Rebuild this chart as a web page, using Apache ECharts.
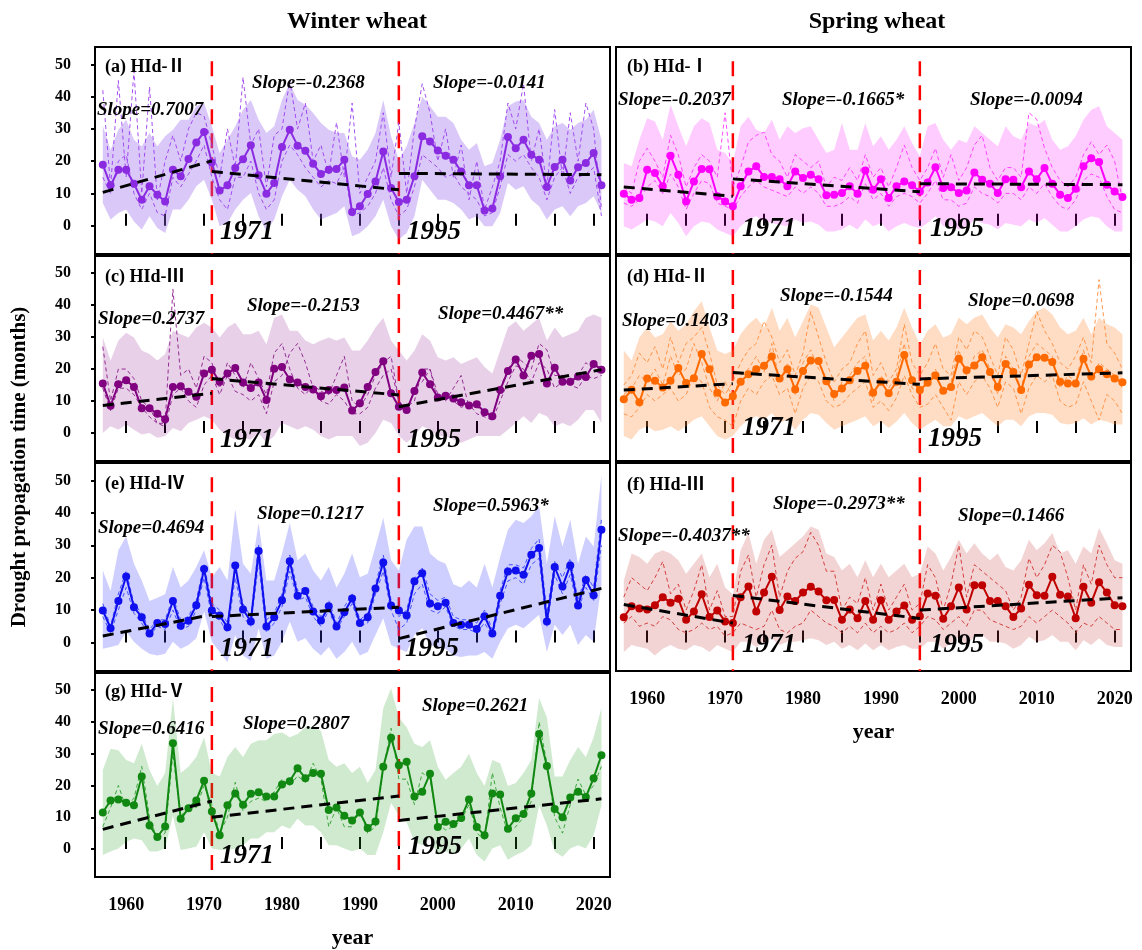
<!DOCTYPE html>
<html><head><meta charset="utf-8">
<script src="https://cdn.jsdelivr.net/npm/echarts@6/dist/echarts.min.js"></script>
<style>html,body{margin:0;padding:0;background:#fff}#c{width:1142px;height:950px}</style>
</head><body><div id="c"></div>
<script>
// ---------------- DATA ----------------
const years = [1957,1958,1959,1960,1961,1962,1963,1964,1965,1966,
  1967,1968,1969,1970,1971,1972,1973,1974,1975,1976,
  1977,1978,1979,1980,1981,1982,1983,1984,1985,1986,
  1987,1988,1989,1990,1991,1992,1993,1994,1995,1996,
  1997,1998,1999,2000,2001,2002,2003,2004,2005,2006,
  2007,2008,2009,2010,2011,2012,2013,2014,2015,2016,
  2017,2018,2019,2020,2021];
const xTickValues = [1960,1965,1970,1975,1980,1985,1990,1995,2000,2005,2010,2015,2020];
const xLabelValues = [1960,1970,1980,1990,2000,2010,2020];
const yLabelValues = [0,10,20,30,40,50];
const breakYears = [1971,1995];

// (a) Winter wheat HId-II
const mainA = [18.9,12.5,17.3,17.3,13.0,8.0,12.2,9.6,7.5,17.3, 15.3,20.7,25.8,29.0,19.6,10.9,12.5,17.9,20.6,24.9, 15.6,9.9,13.2,24.4,29.7,24.8,23.2,19.2,16.0,17.3, 17.6,20.4,4.2,6.0,9.8,13.7,23.0,11.7,7.3,8.0, 15.3,27.7,26.1,23.3,21.7,20.4,16.8,12.5,12.5,4.7, 5.3,15.3,27.5,24.0,26.6,22.0,20.4,12.0,18.2,20.4, 14.0,18.1,19.4,22.5,12.5];
const upperA = [31,23.5,29.7,32.8,26.6,24.6,28.7,24.6,27.7,29.7, 32.8,32.8,37,38,30.8,22.5,26.6,30.8,35.9,39, 32.8,28.7,30.8,39,44.2,39,37.5,34.9,31.8,29.7, 28.7,28.7,21.5,20.4,23.5,28.7,39,27.7,20.4,24.6, 31.8,40,37,33.8,33.8,31.8,26.6,23.5,25.6,18.4, 19.4,26.6,37,38.5,39,33.8,31.8,26.6,30.8,31.8, 29.7,31.8,32.8,35.9,26.6];
const lowerA = [7,1.9,3.9,5,1.3,-1.2,2.9,-0.7,-2.3,5, 5,8,12.2,14.2,8,-0.2,0.8,5,8,10.1, 2.9,-1.8,1.9,9.1,14.2,11.1,9.1,5,1.9,2.9, 3.9,6,-3.3,-2.3,-0.2,2.9,8,-0.2,-4.3,-2.3, 2.9,14.2,11.1,8,8,7,5,1.9,2.9,-0.2, -0.2,3.9,13.2,11.1,12.2,8,6,1.9,5,6, 2.9,6,7,9.1,3.9];
const dashA1 = [42,12,45,15,48,10,43,8,20,28, 20,30,35,34,25,15,30,18,46,25, 30,12,28,30,45,30,38,20,25,16, 32,15,38,10,15,20,35,15,32,10, 30,44,35,20,30,15,25,8,20,5, 12,20,38,30,44,20,30,12,36,15, 35,20,38,30,5];
const dashA2 = [15,10,20,22,10,5,10,4,3,15, 12,16,20,25,15,8,5,15,15,20, 10,5,8,20,25,22,18,15,12,14, 13,18,3,4,6,10,18,8,3,5, 12,22,20,18,15,16,12,10,8,3, 4,12,22,20,22,18,15,8,15,18, 10,15,16,18,3];
const trendA = [[[1957,10.3],[1971,20.1]],[[1971,16.8],[1995,11.1]],[[1995,16.2],[2021,15.8]]];
const slopesA = ['Slope=0.7007','Slope=-0.2368','Slope=-0.0141'];

// (b) Spring wheat HId-I
const mainB = [9.9,8.0,8.6,17.3,16.3,12.2,21.7,15.8,7.5,13.7, 17.6,17.5,9.1,7.5,6.0,12.2,16.8,18.4,15.1,15.1, 14.4,12.2,16.8,14.8,15.8,14.4,9.4,9.6,10.1,12.2, 9.9,17.1,11.1,14.4,8.6,12.2,13.7,12.5,10.6,13.4, 18.1,11.7,11.9,10.1,10.9,16.5,14.2,13.0,10.1,14.4, 14.2,11.9,16.8,14.4,17.9,13.0,9.6,8.6,11.4,18.4, 20.9,19.7,12.7,10.6,8.9];
const upperB = [19.4,18.4,26.6,33.3,32.3,26.6,37.5,30.8,24.6,30.8, 33.3,31.8,23.5,22.5,19.4,30.8,33.8,29.7,28.7,32.8, 26.6,30.8,28.7,30.2,30.8,26.6,22.5,23.5,31.8,23.5, 23.5,31.8,24.6,27.7,23.5,26.6,30.8,25.6,21.5,30.8, 31.8,26.6,23.5,26.6,25.6,30.8,28.7,26.6,24.6,30.8, 27.7,26.6,31.8,30.8,32.8,26.6,23.5,24.6,27.7,32.8, 35.9,37,30.8,28.7,26.6];
const lowerB = [-0.2,-1.2,0.3,1.9,1.3,-0.2,3.9,0.8,-3.3,-0.2, 1.3,0.8,-1.2,-2.3,-3.3,-0.2,1.9,2.9,1.3,0.8, 0.3,-0.2,1.9,0.8,1.3,0.3,-1.8,-1.8,-1.2,0.3, -1.2,1.9,-0.2,0.8,-1.8,-0.2,0.8,-0.2,-0.7,0.8, 2.9,-0.2,-0.2,-1.2,-0.7,1.9,0.8,0.3,-1.2,0.8, 0.3,-0.2,1.9,0.8,2.4,0.3,-1.8,-1.8,-0.2,1.9, 2.9,2.4,-0.2,-1.8,-1.8];
const dashB1 = [12,10,20,24,20,15,28,22,12,18, 22,20,15,35,12,18,26,28,29,22, 20,15,22,20,18,20,12,15,14,18, 14,22,15,18,12,18,25,18,14,18, 24,15,22,14,18,25,28,18,14,18, 18,15,35,33,24,18,14,12,15,22, 26,22,25,20,8];
const dashB2 = [7,6,8,12,14,10,16,12,5,10, 14,13,7,6,5,9,12,14,12,11, 10,9,12,10,12,10,6,6,7,9, 7,13,8,10,6,9,10,9,7,10, 14,8,8,6,7,12,10,9,7,10, 10,8,12,10,13,9,6,5,8,14, 16,15,9,5,4];
const trendB = [[[1957,12.0],[1971,9.1]],[[1971,14.5],[1995,10.5]],[[1995,13.0],[2021,12.7]]];
const slopesB = ['Slope=-0.2037','Slope=-0.1665*','Slope=-0.0094'];

// (c) Winter wheat HId-III
const mainC = [15.5,8.5,15.2,16.5,14.4,7.7,7.7,6.0,4.3,14.4, 14.6,12.9,11.3,18.6,19.8,16.0,18.6,20.3,15.8,14.1, 15.8,10.3,20.1,20.6,16.7,15.8,14.4,13.6,11.5,13.4, 13.4,14.2,7.0,9.3,14.4,19.1,22.4,12.4,8.2,7.2, 13.1,18.9,15.2,11.1,11.6,10.8,9.6,8.6,9.0,6.5, 5.2,13.4,19.4,23.0,18.0,24.2,24.7,15.5,20.4,16.0, 16.0,17.7,17.5,21.6,19.8];
const upperC = [29.9,22.7,28.9,31.4,29.9,25.8,24.7,22.7,24.7,32, 30.9,29.9,33,34.5,33,29.9,33,34.5,30.9,30.9, 32,27.8,36.1,37.1,32,32,28.9,27.8,28.9,29.9, 28.9,29.9,25.8,25.8,28.9,33,36.1,28.9,25.8,22.7, 25.8,30.9,28.9,23.7,22.7,23.7,21.6,22.7,23.7,20.6, 18.6,25.8,33,35,32,34,36.1,28.9,33,29.9, 30.9,32,36.1,37.1,36.1];
const lowerC = [0,2.1,1,2.6,1,-0.5,0,-1.5,-1,1.5, 0.5,3.1,4.1,5.2,4.1,1,-1,-2.1,-1.5,-2.1, 0,-3.1,-1,3.1,2.1,1,2.1,1,-1,-2.1, -1,-1,-1,-4.1,-3.1,0,4.1,3.1,-1,-3.1, -1,2.1,1,-1,-1,-2.1,-3.1,-2.1,-1,-1, -1,-1,1,3.1,5.2,3.1,6.2,5.2,2.1,3.1, 2.1,4.1,7.2,7.2,3.1];
const dashC1 = [27,10,20,20,17,10,8,3,3,45, 18,20,14,24,22,14,22,18,14,22, 17,12,25,28,20,14,12,15,13,12, 18,24,10,8,12,18,22,24,10,8, 10,20,20,12,10,14,18,8,8,7, 5,14,20,24,22,20,28,26,18,18, 16,18,22,20,18];
const dashC2 = [14,7,14,14,12,8,5,3,2,12, 14,10,8,15,18,12,18,13,12,10, 12,6,16,18,25,28,22,14,10,9, 12,10,6,6,8,14,18,20,10,6, 14,16,20,10,12,10,8,9,6,5, 4,10,16,21,20,16,22,20,14,16, 15,14,18,17,18];
const trendC = [[[1957,8.6],[1971,12.4]],[[1971,17.0],[1995,11.9]],[[1995,8.2],[2021,19.8]]];
const slopesC = ['Slope=0.2737','Slope=-0.2153','Slope=0.4467**'];

// (d) Spring wheat HId-II
const mainD = [10.5,13.5,9.6,17.0,16.3,14.2,16.3,20.3,15.6,17.1, 24.7,19.9,12.6,9.5,11.5,16.0,18.4,19.9,21.0,23.9, 17.0,19.9,13.6,19.4,22.7,22.5,16.2,12.2,13.9,16.5, 19.4,21.0,12.6,16.0,12.4,16.0,24.4,16.5,13.4,15.7, 18.0,13.2,14.4,23.2,19.6,21.1,23.7,19.1,14.4,21.6, 19.1,13.4,21.4,23.7,23.5,22.2,16.0,15.5,15.5,23.2, 17.7,19.9,18.4,17.0,15.9];
const upperD = [25.8,22.7,29.9,33,29.9,30.9,35,32,34,38.1, 41.2,33,25.8,24.7,25.8,30.9,34,36.1,33,39.2, 32,36.1,29.9,35,40.2,39.2,33,26.8,29.9,33, 36.1,37.1,28.9,32,28.9,33,39.2,33,27.8,32, 34,29.9,30.9,36.1,34,36.1,37.1,33,29.9,34, 33,30.9,35,38.1,39.2,37.1,33,30.9,32,36.1, 30.9,36.1,34,33,30.9];
const lowerD = [-1,-2.1,1,2.1,0.5,1,2.1,0.5,2.1,4.1, 5.2,2.1,-1,-2.1,-1,2.1,4.1,5.2,4.1,6.2, 3.1,4.1,1,4.1,6.2,5.7,3.1,1,2.1,3.1, 4.1,5.2,2.1,3.6,1.5,3.6,6.2,3.1,1,2.6, 4.1,2.1,2.1,5.2,4.1,5.2,6.2,4.1,2.1,4.1, 4.1,2.1,5.2,6.2,6.2,5.7,3.1,2.6,3.1,4.6, 2.6,4.1,3.6,2.6,2.6];
const dashD1 = [15,18,25,22,27,20,30,22,28,30, 33,25,15,12,16,22,26,28,35,30, 22,26,18,25,38,30,22,16,20,22, 28,32,18,22,16,20,34,22,18,22, 28,20,18,30,26,32,30,24,18,30, 26,18,28,38,32,28,22,20,24,30, 22,48,28,25,20];
const dashD2 = [6,5,8,12,10,12,14,10,12,18, 16,8,5,4,2,10,14,12,16,18, 12,14,6,14,18,16,10,8,9,12, 14,16,8,10,7,11,18,12,8,9, 12,8,4,16,12,16,18,14,8,16, 14,6,14,18,16,18,10,8,9,16, 10,4,12,10,6];
const dashD3 = [12,14,18,16,20,15,24,18,20,28, 22,14,10,16,11,18,20,24,19,28, 16,22,12,22,26,20,18,10,16,18, 22,24,10,18,14,18,28,14,12,17, 20,12,16,26,18,24,26,20,12,24, 20,14,24,28,26,24,14,18,16,26, 16,22,20,18,14];
const trendD = [[[1957,13.4],[1971,15.4]],[[1971,18.9],[1995,15.2]],[[1995,16.9],[2021,18.8]]];
const slopesD = ['Slope=0.1403','Slope=-0.1544','Slope=0.0698'];

// (e) Winter wheat HId-IV
const mainE = [9.9,4.4,12.8,20.4,10.9,7.8,2.8,6.0,5.7,12.8, 5.2,6.7,11.5,22.7,9.9,8.3,4.7,23.8,10.2,6.5, 28.2,4.9,7.8,13.0,25.1,14.4,15.9,9.6,6.8,11.2, 4.9,9.3,13.6,6.0,7.8,16.7,24.7,11.4,9.9,8.3, 18.9,21.4,12.0,11.2,12.3,6.0,5.5,5.5,4.2,8.1, 2.8,14.4,21.9,22.2,20.9,27.1,29.2,6.5,23.3,17.3, 23.8,11.4,19.3,14.6,34.8];
const upperE = [22.2,15.9,28.5,32.7,24.3,19.1,12.8,13.8,14.9,23.3, 17,19.1,23.3,28.5,20.1,23.3,19.1,41.1,24.3,21.2, 36.9,19.1,19.1,27.5,36.9,25.4,27.5,22.2,19.1,23.3, 17,21.2,27.5,20.1,21.2,29.6,38.5,25.4,22.2,31.7, 35.8,35.8,27.5,25.4,24.3,18,17,19.1,17,24.3, 17,26.4,34.8,37.9,36.9,39,42.1,24.3,39,29.6, 37.9,24.3,32.7,29.6,51.6];
const lowerE = [-1.9,-1.4,-0.8,3.4,0.2,-1.9,-3.5,-4,-3.5,0.2, -1.9,-0.8,1.3,9.6,0.2,-2.9,-6.1,2.3,-4,-5.6, 4.4,-5,-4,0.2,6.5,0.2,1.3,-1.9,-4,-1.4, -5,-2.9,0.2,-4,-2.9,2.3,7.5,-0.8,-1.9,-2.9, 2.3,4.4,-0.8,-1.4,-1.9,-4,-4.5,-4,-4,-2.9, -5,0.2,4.4,5.5,4.4,6.5,8.6,-2.9,5.5,2.3, 5.5,-0.8,2.3,0.2,18];
const dashE1 = [12,5,15,22,12,9,4,7,7,14, 7,8,13,24,12,10,6,22,12,8, 30,7,9,15,27,16,17,11,8,13, 6,11,15,7,9,18,27,13,8,10, 20,23,15,13,14,8,7,7,6,10, 4,16,24,24,23,29,32,9,25,20, 26,13,21,17,38];
const dashE2 = [8,3,10,17,9,6,2,5,4,10, 4,5,10,20,8,7,3,20,8,5, 25,3,6,11,22,13,14,8,5,10, 4,8,12,5,6,15,22,10,4,6, 15,18,10,9,11,5,4,4,3,6, 2,12,19,20,18,24,26,5,21,15, 21,10,17,13,30];
const trendE = [[[1957,2.0],[1971,8.6]],[[1971,8.0],[1995,10.9]],[[1995,1.2],[2021,16.7]]];
const slopesE = ['Slope=0.4694','Slope=0.1217','Slope=0.5963*'];

// (f) Spring wheat HId-III
const mainF = [7.8,11.2,10.5,10.2,11.5,14.0,12.3,13.5,7.0,9.6, 14.9,7.9,9.9,6.5,6.0,14.0,17.3,9.6,15.4,20.3, 10.0,14.2,12.8,15.4,17.2,15.7,13.0,13.1,7.0,10.2, 7.5,12.8,7.0,13.0,7.0,9.6,11.4,7.0,8.1,15.1, 14.4,7.3,11.2,17.0,10.2,17.7,17.7,12.8,12.8,11.2, 7.9,10.5,17.8,14.6,14.4,20.3,14.7,14.2,7.5,17.2, 12.3,18.6,15.4,11.5,11.2];
const upperF = [19.1,27.5,26.4,24.3,27.5,28.5,27.5,25.4,21.2,24.3, 27.5,20.1,24.3,17,14.9,28.5,33.8,24.3,31.7,34.8, 26.4,28.5,30.6,32.7,35.8,34.8,27.5,26.4,22.2,24.3, 20.1,25.4,20.1,24.3,20.1,22.2,24.3,20.1,21.2,29.6, 27.5,22.2,26.4,31.7,27.5,30.6,27.5,25.4,27.5,23.3, 22.2,25.4,31.7,28.5,30.6,33.8,27.5,28.5,24.3,29.6, 27.5,35.3,30.6,25.4,24.3];
const lowerF = [-2.9,-0.8,-1.4,-1.9,-4,-1.9,-0.8,-1.9,-2.4,-0.8, -1.4,-2.9,-0.8,-1.9,-2.9,0.2,0.2,-1.4,0.2,1.3, -0.8,0.2,0.2,0.7,1.3,0.7,-0.8,0.2,-1.9,-0.8, -2.4,-0.3,-2.4,-0.8,-2.4,-1.4,-0.8,-1.9,-1.9,0.2, 0.2,-1.9,-0.3,1.8,-0.8,1.8,2.3,0.2,0.2,-0.3, -1.9,-0.8,1.8,0.2,0.7,2.3,0.2,0.2,-2.4,0.7, -0.8,1.3,-0.8,-1.4,-1.4];
const dashF1 = [14,20,18,16,20,25,15,18,10,16, 24,10,16,8,8,22,27,14,24,30, 14,22,26,28,34,30,22,22,10,14, 12,20,10,18,10,14,18,10,12,24, 20,10,18,30,14,24,22,20,18,16, 10,14,26,20,24,30,28,20,10,24, 18,30,24,20,20];
const dashF2 = [6,8,5,6,5,8,7,4,3,4, 6,4,5,2,3,6,5,4,5,10, 4,3,5,6,10,8,6,5,3,5, 3,6,3,5,3,4,6,3,5,8, 7,4,6,8,5,10,10,7,6,5, 4,5,8,6,8,10,8,6,3,6, 5,8,6,4,4];
const trendF = [[[1957,11.7],[1971,6.0]],[[1971,14.5],[1995,7.4]],[[1995,10.0],[2021,13.8]]];
const slopesF = ['Slope=-0.4037**','Slope=-0.2973**','Slope=0.1466'];

// (g) Winter wheat HId-V
const mainG = [11.5,15.3,15.6,14.6,13.8,22.8,7.4,3.8,7.1,33.3, 9.5,12.8,15.3,21.5,11.8,4.3,13.8,17.5,13.9,17.4, 17.9,16.5,16.5,20.3,21.3,25.4,22.3,23.9,23.7,12.3, 13.1,10.5,9.0,11.5,6.6,8.7,25.9,35.0,26.4,27.5, 16.5,18.0,23.7,6.9,8.6,7.9,9.8,15.6,6.9,4.3, 17.5,17.2,6.4,9.7,11.0,17.5,36.2,26.1,12.6,10.0, 16.2,18.0,16.4,22.3,29.5];
const upperG = [24.9,31.6,31.1,28,27,33.1,24.9,19.8,23.9,47.5, 23.9,25.9,29,35.2,23.9,22.8,29,32.1,29,33.1, 34.2,34.2,36.2,36.7,35.2,36.2,38.3,38.3,37.2,28, 25.9,27,23.9,25.9,20.8,24.9,44.4,50.6,41.4,38.3, 33.1,32.1,34.2,25.9,21.8,23.9,25.9,30,23.9,19.8, 28,27,19.8,20.8,23.9,28,47.5,41.4,22.8,22.8, 28,32.1,29,35.2,44.4];
const lowerG = [-1.9,-0.8,0.2,2.3,3.3,2.8,-0.8,-0.8,0.2,10.5, -0.3,0.2,0.7,5.3,0.2,-0.3,-0.3,0.2,1.2,3.3, 3.3,5.3,5.3,7.4,6.4,9.5,7.4,7.4,5.3,1.2, 1.2,0.2,-0.8,0.2,-1.9,-1.9,5.3,14.6,10.5,8.4, 2.3,1.2,3.3,-1.9,-0.8,-1.3,0.2,3.3,-1.9,-3.9, 0.2,1.2,-3.4,-1.9,-0.8,1.2,13.6,7.4,-0.8,-2.4, 0.2,1.2,0.2,4.3,13.6];
const dashG1 = [7,13,20,13,16,26,10,3,5,30, 10,14,13,20,14,5,10,21,12,15, 16,15,18,22,20,23,21,27,22,7, 13,7,7,12,5,7,25,38,22,22, 14,24,22,8,6,7,9,14,5,3, 24,13,5,7,10,15,40,27,10,5, 14,22,17,20,26];
const trendG = [[[1957,6.2],[1971,15.1]],[[1971,10.0],[1995,16.7]],[[1995,9.0],[2021,15.8]]];
const slopesG = ['Slope=0.6416','Slope=0.2807','Slope=0.2621'];

const columnTitles = ['Winter wheat','Spring wheat'];
const yTitle = 'Drought propagation time (months)';
const xTitle = 'year';

// ---------------- LAYOUT / STYLE ----------------
const SERIF = '"Liberation Serif","Times New Roman",serif';
const LABEL_FONT = '"Liberation Serif","Noto Sans CJK SC",serif';
const X_MIN = 1956, X_MAX = 2022.1, Y_MIN = -8.8, Y_MAX = 55.4, RED_TOP = 51;

const panels = [
  {label:'(a) HId-Ⅱ', main:mainA, upper:upperA, lower:lowerA, dashes:[dashA1,dashA2], trend:trendA, slopes:slopesA,
   color:'#8A2BE2', band:'rgba(150,100,235,0.35)', dash:'#9A3CF0',
   grid:{left:95,top:47,width:515,height:207}, yLab:true, xLab:false,
   pos:{label:[10,20], slopes:[[2,63],[157,36],[338,36]], y1:[125,185], y2:[312,185]}},
  {label:'(b) HId-Ⅰ', main:mainB, upper:upperB, lower:lowerB, dashes:[dashB1,dashB2], trend:trendB, slopes:slopesB,
   color:'#FF00FF', band:'rgba(255,0,255,0.2)', dash:'#FF33FF',
   grid:{left:616,top:47,width:515,height:207}, yLab:false, xLab:false,
   pos:{label:[11,20], slopes:[[2,53],[166,53],[354,53]], y1:[126,182], y2:[314,182]}},
  {label:'(c) HId-Ⅲ', main:mainC, upper:upperC, lower:lowerC, dashes:[dashC1,dashC2], trend:trendC, slopes:slopesC,
   color:'#800080', band:'rgba(128,0,128,0.18)', dash:'#8B1A8B',
   grid:{left:95,top:256,width:515,height:205}, yLab:true, xLab:false,
   pos:{label:[10,21], slopes:[[3,63],[152,50],[343,58]], y1:[125,184], y2:[312,184]}},
  {label:'(d) HId-Ⅱ', main:mainD, upper:upperD, lower:lowerD, dashes:[dashD1,dashD2,dashD3], trend:trendD, slopes:slopesD,
   color:'#FF6A00', band:'rgba(255,140,60,0.3)', dash:'#FF8C3A',
   grid:{left:616,top:256,width:515,height:205}, yLab:false, xLab:false,
   pos:{label:[11,21], slopes:[[6,65],[164,40],[352,45]], y1:[126,172], y2:[312,183]}},
  {label:'(e) HId-Ⅳ', main:mainE, upper:upperE, lower:lowerE, dashes:[dashE1,dashE2], trend:trendE, slopes:slopesE,
   color:'#1010EE', band:'rgba(60,60,255,0.25)', dash:'#3344FF',
   grid:{left:95,top:463,width:515,height:208}, yLab:true, xLab:false,
   pos:{label:[10,21], slopes:[[3,65],[162,51],[338,43]], y1:[125,186], y2:[310,186]}},
  {label:'(f) HId-Ⅲ', main:mainF, upper:upperF, lower:lowerF, dashes:[dashF1,dashF2], trend:trendF, slopes:slopesF,
   color:'#C00000', band:'rgba(200,60,60,0.22)', dash:'#D03030',
   grid:{left:616,top:463,width:515,height:208}, yLab:false, xLab:true,
   pos:{label:[11,22], slopes:[[2,73],[157,41],[342,53]], y1:[126,182], y2:[314,182]}},
  {label:'(g) HId-Ⅴ', main:mainG, upper:upperG, lower:lowerG, dashes:[dashG1], trend:trendG, slopes:slopesG,
   color:'#118811', band:'rgba(40,160,40,0.22)', dash:'#2E9E2E',
   grid:{left:95,top:673,width:515,height:207}, yLab:true, xLab:true,
   pos:{label:[10,19], slopes:[[3,56],[148,51],[327,33]], y1:[125,183], y2:[313,174]}}
];

const pairs = arr => years.map((y,k) => [y, arr[k]]);

const grids = [], xAxes = [], yAxes = [], series = [], graphics = [];

panels.forEach((p, i) => {
  grids.push(Object.assign({show:true, borderColor:'#000', borderWidth:2, backgroundColor:'transparent'}, p.grid));
  xAxes.push({
    gridIndex:i, type:'value', min:X_MIN, max:X_MAX,
    axisLine:{show:false}, splitLine:{show:false},
    axisTick:{show:true, inside:true, length:12, lineStyle:{color:'#000', width:2}, customValues:xTickValues},
    axisLabel:{show:p.xLab, customValues:xLabelValues, formatter:v => String(Math.round(v)),
      color:'#000', fontFamily:SERIF, fontWeight:'bold', fontSize:18, margin:19},
    name:p.xLab ? xTitle : '', nameLocation:'middle', nameGap:50,
    nameTextStyle:{color:'#000', fontFamily:SERIF, fontWeight:'bold', fontSize:22}
  });
  yAxes.push({
    gridIndex:i, type:'value', min:Y_MIN, max:Y_MAX,
    axisLine:{show:false}, splitLine:{show:false},
    axisTick:{show:p.yLab, inside:false, length:4, lineStyle:{color:'#000', width:2}, customValues:yLabelValues},
    axisLabel:{show:p.yLab, customValues:yLabelValues, formatter:v => String(Math.round(v)),
      color:'#000', fontFamily:SERIF, fontWeight:'bold', fontSize:16, margin:24}
  });

  // red vertical break lines
  const red = [];
  breakYears.forEach(b => { red.push([b, RED_TOP]); red.push([b, Y_MIN]); red.push([b, '-']); });
  series.push({type:'line', xAxisIndex:i, yAxisIndex:i, data:red, symbol:'none', silent:true, z:1,
    lineStyle:{color:'#FF0000', width:2.5, type:[15,9]}});

  // shaded min-max band as one polygon through the axis scales
  series.push({type:'custom', xAxisIndex:i, yAxisIndex:i, silent:true, z:2,
    data:years.map((y,k) => [y, p.lower[k], p.upper[k]]),
    encode:{x:0, y:[1,2]},
    renderItem:(params, api) => {
      if (params.dataIndex !== 0) return null;
      const pts = [];
      for (let k = 0; k < years.length; k++) pts.push(api.coord([years[k], p.upper[k]]));
      for (let k = years.length - 1; k >= 0; k--) pts.push(api.coord([years[k], p.lower[k]]));
      return {type:'polygon', shape:{points:pts}, style:{fill:p.band}, silent:true};
    }});

  // thin dashed member lines
  p.dashes.forEach(d => series.push({type:'line', xAxisIndex:i, yAxisIndex:i, data:pairs(d), symbol:'none', silent:true,
    lineStyle:{color:p.dash, width:1, type:[4,3], opacity:0.9}, z:3}));

  // mean line with dots
  series.push({type:'line', xAxisIndex:i, yAxisIndex:i, data:pairs(p.main), symbol:'circle', symbolSize:8,
    lineStyle:{color:p.color, width:2}, itemStyle:{color:p.color}, z:4});

  // trend segments
  p.trend.forEach(seg => series.push({type:'line', xAxisIndex:i, yAxisIndex:i, data:seg, symbol:'none', silent:true,
    lineStyle:{color:'#000', width:3, type:[11,7]}, z:5}));

  // texts
  const g = p.grid;
  graphics.push({type:'text', x:g.left + p.pos.label[0], y:g.top + p.pos.label[1], z:100,
    style:{text:p.label, font:'bold 18px ' + LABEL_FONT, fill:'#000', verticalAlign:'middle'}});
  p.slopes.forEach((s, k) => graphics.push({type:'text', x:g.left + p.pos.slopes[k][0], y:g.top + p.pos.slopes[k][1], z:100,
    style:{text:s, font:'italic bold 19px ' + SERIF, fill:'#000', verticalAlign:'middle'}}));
  [p.pos.y1, p.pos.y2].forEach((q, k) => graphics.push({type:'text', x:g.left + q[0], y:g.top + q[1], z:100,
    style:{text:String(breakYears[k]), font:'italic bold 27px ' + SERIF, fill:'#000', verticalAlign:'middle'}}));
});

graphics.push({type:'text', x:357, y:22, z:100, style:{text:columnTitles[0], font:'bold 24px ' + SERIF, fill:'#000', align:'center', verticalAlign:'middle'}});
graphics.push({type:'text', x:877, y:22, z:100, style:{text:columnTitles[1], font:'bold 24px ' + SERIF, fill:'#000', align:'center', verticalAlign:'middle'}});
graphics.push({type:'text', x:20, y:467, rotation:Math.PI/2, z:100, style:{text:yTitle, font:'bold 21px ' + SERIF, fill:'#000', align:'center', verticalAlign:'middle'}});

const chart = echarts.init(document.getElementById('c'), null, {renderer:'canvas', width:1142, height:950});
chart.setOption({
  animation:false,
  backgroundColor:'#fff',
  grid:grids, xAxis:xAxes, yAxis:yAxes, series:series, graphic:graphics
});
</script>
</body></html>
